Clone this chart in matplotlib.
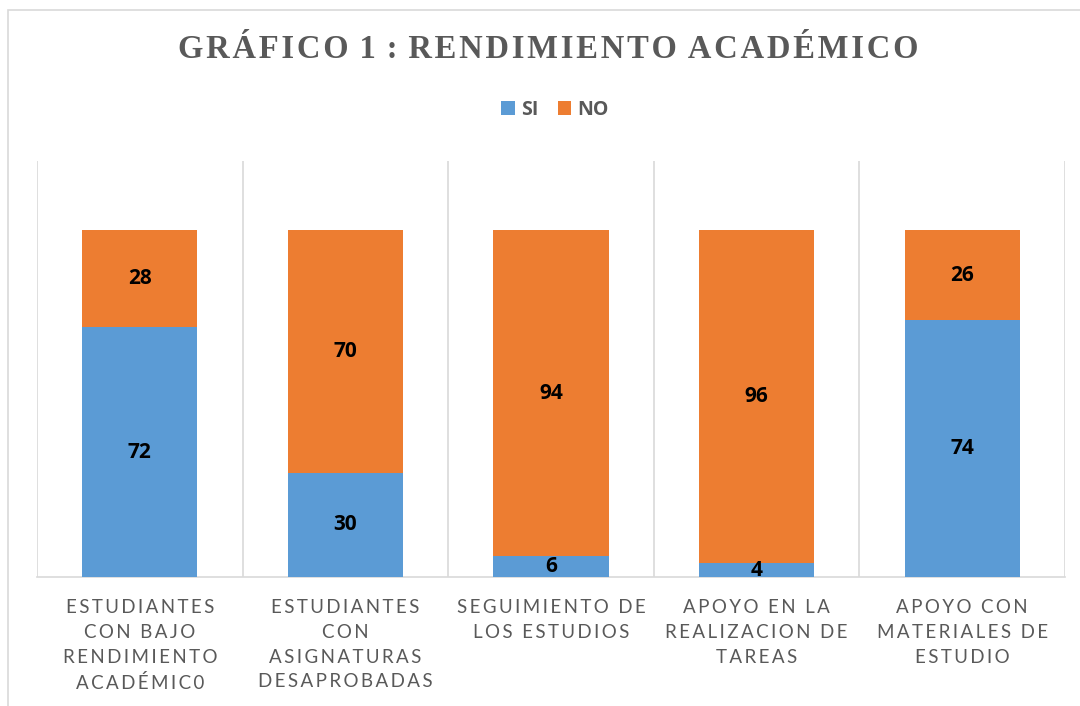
import matplotlib

matplotlib.use("Agg")
import matplotlib.pyplot as plt
import numpy as np
from matplotlib.patches import Rectangle

CATEGORIES = [
    ["ESTUDIANTES", "CON BAJO", "RENDIMIENTO", "ACADÉMIC0"],
    ["ESTUDIANTES", "CON", "ASIGNATURAS", "DESAPROBADAS"],
    ["SEGUIMIENTO DE", "LOS ESTUDIOS"],
    ["APOYO EN LA", "REALIZACION DE", "TAREAS"],
    ["APOYO CON", "MATERIALES DE", "ESTUDIO"],
]
SI = [72, 30, 6, 4, 74]
NO = [28, 70, 94, 96, 26]
TITLE = "GRÁFICO 1 : RENDIMIENTO ACADÉMICO"

C_SI, C_NO = "#5B9BD5", "#ED7D31"
GREY_TXT = "#595959"
GRID = "#D9D9D9"
SANS = ["Lato", "DejaVu Sans"]
BOLD_SANS = ["Open Sans", "DejaVu Sans"]


def spaced(line, sep="\u2009", word_sep=" \u2009\u2009"):
    # fake letter spacing: pad every glyph, widen the gaps between words
    return word_sep.join(sep.join(w) for w in line.split(" "))


fig = plt.figure(figsize=(10.8, 7.06), dpi=100)
# chart-area border, runs off the right and bottom edges like the screenshot
fig.patches.append(Rectangle((8 / 1080, -0.1), 1.2, 1 - 10 / 706 + 0.1,
                             transform=fig.transFigure, fill=False,
                             edgecolor=GRID, lw=1.2))

ax = fig.add_axes([37 / 1080, 1 - 577 / 706, (1065 - 37) / 1080, (577 - 161) / 706])
x = np.arange(len(SI))
b1 = ax.bar(x, SI, width=0.56, color=C_SI, label="SI", zorder=3)
b2 = ax.bar(x, NO, width=0.56, bottom=SI, color=C_NO, label="NO", zorder=3)
for bars in (b1, b2):
    ax.bar_label(bars, label_type="center", fontsize=15, fontweight="bold",
                 family=BOLD_SANS, color="black")

ax.set_xlim(-0.5, len(SI) - 0.5)
ax.set_ylim(0, 120)
ax.set_yticks([])
# category separators
for b in np.arange(-0.5, len(SI), 1.0):
    ax.axvline(b, color=GRID, lw=1.2, zorder=1)
for s in ("top", "right", "left"):
    ax.spines[s].set_visible(False)
ax.spines["bottom"].set_color(GRID)
ax.spines["bottom"].set_linewidth(1.2)

ax.set_xticks(x)
ax.set_xticklabels(["\n".join(spaced(l) for l in c) for c in CATEGORIES],
                   fontsize=13.5, color=GREY_TXT, family=SANS,
                   linespacing=1.55, va="top")
ax.tick_params(axis="x", length=0, pad=16)

fig.text(548 / 1080, 1 - 50 / 706, spaced(TITLE, "\u200a", " \u200a"),
         ha="center", va="center", fontsize=23.5, fontweight="bold", color=GREY_TXT,
         family=["Liberation Serif", "DejaVu Serif"])

leg = fig.legend(handles=[b1, b2], labels=["SI", "NO"], loc="center",
                 bbox_to_anchor=(555 / 1080, 1 - 110 / 706), ncol=2, frameon=False,
                 prop=dict(family=BOLD_SANS, weight="bold", size=14),
                 handlelength=0.7, handleheight=0.75, handletextpad=0.3, columnspacing=1.0)
for t in leg.get_texts():
    t.set_color(GREY_TXT)

fig.savefig("out.png", dpi=100, facecolor="white")
